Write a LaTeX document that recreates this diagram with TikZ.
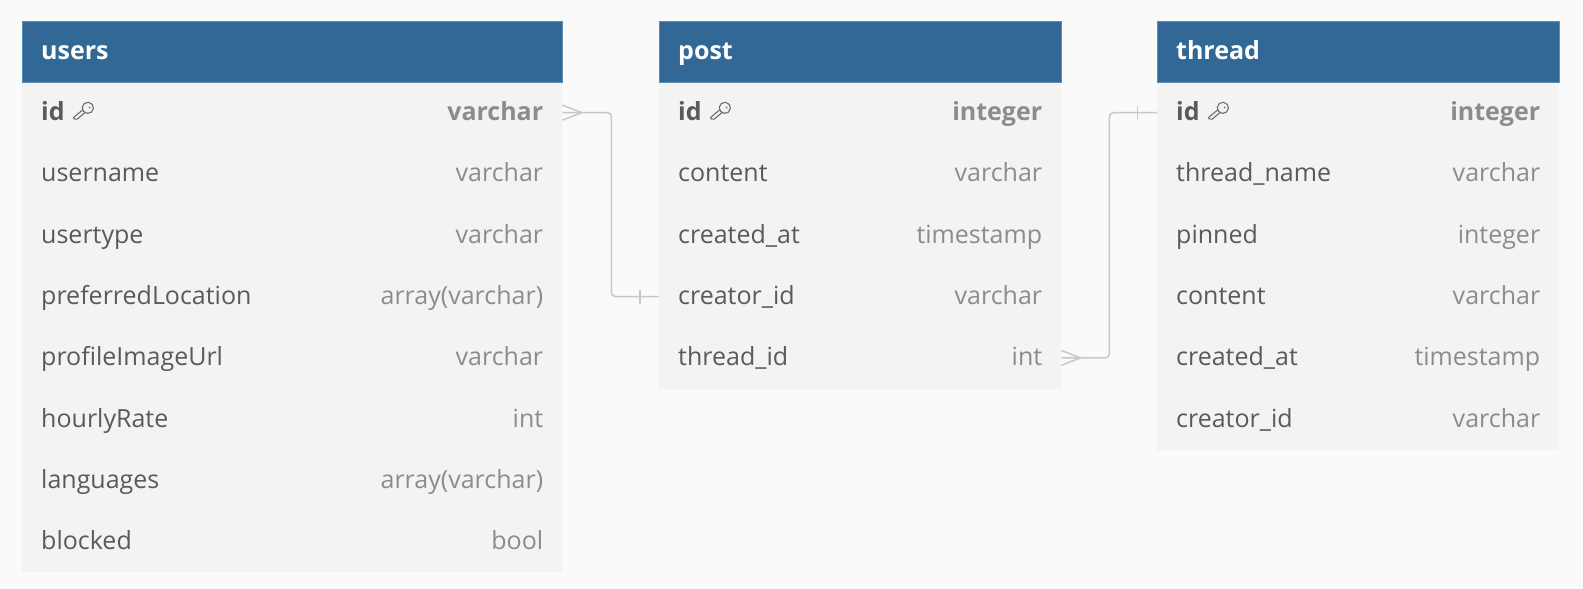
\documentclass[tikz,border=0pt]{standalone}
\usepackage{fontspec}
\setmainfont{Open Sans}
\definecolor{bgc}{HTML}{FAFAFA}
\definecolor{hdrc}{HTML}{316895}
\definecolor{hdrline}{HTML}{5A8DB8}
\definecolor{bodyc}{HTML}{F3F3F2}
\definecolor{namec}{HTML}{5A5A5A}
\definecolor{typec}{HTML}{8C8C8C}
\definecolor{connc}{HTML}{C8C8C8}
\definecolor{keyc}{HTML}{6E6E6E}
\tikzset{
  hdrbox/.style={fill=hdrc, draw=hdrline, line width=0.7pt, minimum height=60.8pt, inner sep=0pt, anchor=north west},
  bodybox/.style={fill=bodyc, inner sep=0pt, anchor=north west},
  rowbox/.style={inner sep=0pt, minimum height=61.3pt, anchor=north west},
  hdrtext/.style={text=white, font=\bfseries\fontsize{25}{29}\selectfont, anchor=base west, inner sep=0pt},
  fname/.style={text=namec, font=\fontsize{25}{29}\selectfont, anchor=base west, inner sep=0pt},
  ftype/.style={text=typec, font=\fontsize{25}{29}\selectfont, anchor=base east, inner sep=0pt},
  fnamebold/.style={fname, font=\bfseries\fontsize{25}{29}\selectfont},
  ftypebold/.style={ftype, font=\bfseries\fontsize{25}{29}\selectfont},
  connline/.style={draw=connc, line width=1.5pt, rounded corners=4pt},
  crow/.style={draw=connc, line width=1.5pt},
  keyicon/.style={draw=keyc, line width=1.1pt, line join=round},
}
% #1 name, #2 left, #3 right, #4 title, #5 id type, #6 number of rows, #7 other rows
\newcommand{\ertable}[7]{%
  \pgfmathsetmacro\tabw{#3-#2}%
  \pgfmathsetmacro\tabh{#6*61.3}%
  \node[bodybox, minimum width=\tabw pt, minimum height=\tabh pt] (#1-body) at (#2,81.8) {};
  \node[hdrbox, minimum width=\tabw pt] (#1-head) at (#2,21) {};
  \node[hdrtext] (#1-title) at ([xshift=19pt,yshift=-8pt]#1-head.west) {#4};
  \node[rowbox, minimum width=\tabw pt] (#1-r1) at (#2,81.8) {};
  \node[fnamebold] (#1-idname) at ([xshift=19pt,yshift=-8pt]#1-r1.west) {id};
  \node[ftypebold] (#1-idtype) at ([xshift=-19pt,yshift=-8pt]#1-r1.east) {#5};
  \begin{scope}[shift={(#1-idname.base east)}, x=1pt, y=1pt]
    \begin{scope}[shift={(23,12.8)}, rotate=220]
      \draw[keyicon] (0,0) circle (5.6);
      \fill[keyc] (-1.6,0.9) circle (1.1);
      \draw[keyicon] (5.3,1.8) -- (15.5,1.8) -- (17.4,0) -- (17.4,-1.8) -- (5.3,-1.8);
    \end{scope}
  \end{scope}
  \foreach \fn/\ft [count=\i from 2] in {#7} {
    \node[rowbox, minimum width=\tabw pt] (#1-r\i) at (#2,{81.8+61.3*(\i-1)}) {};
    \node[fname] (#1-n\i) at ([xshift=19pt,yshift=-8pt]#1-r\i.west) {\fn};
    \node[ftype] (#1-t\i) at ([xshift=-19pt,yshift=-8pt]#1-r\i.east) {\ft};
  }
}
\begin{document}
\begin{tikzpicture}[x=1pt, y=-1pt]
  \useasboundingbox[fill=bgc] (0,0) rectangle (1583,589);

  \ertable{users}{22}{562}{users}{varchar}{8}{username/varchar, usertype/varchar, preferredLocation/array(varchar), profileImageUrl/varchar, hourlyRate/int, languages/array(varchar), blocked/bool}
  \ertable{post}{659}{1061}{post}{integer}{5}{content/varchar, created\_at/timestamp, creator\_id/varchar, thread\_id/int}
  \ertable{thread}{1157}{1559}{thread}{integer}{6}{thread\_name/varchar, pinned/integer, content/varchar, created\_at/timestamp, creator\_id/varchar}

  % users.id  >--|  post.creator_id
  \draw[connline] (users-r1.east) -- ++(49,0) |- (post-r4.west);
  \draw[crow] ([yshift=7.5pt]users-r1.east) -- ([xshift=19.5pt]users-r1.east) -- ([yshift=-7.5pt]users-r1.east);
  \draw[crow] ([xshift=-19pt,yshift=7pt]post-r4.west) -- ([xshift=-19pt,yshift=-7pt]post-r4.west);

  % post.thread_id  >--|  thread.id
  \draw[connline] (post-r5.east) -- ++(48,0) |- (thread-r1.west);
  \draw[crow] ([yshift=7.5pt]post-r5.east) -- ([xshift=19pt]post-r5.east) -- ([yshift=-7.5pt]post-r5.east);
  \draw[crow] ([xshift=-19.5pt,yshift=7pt]thread-r1.west) -- ([xshift=-19.5pt,yshift=-7pt]thread-r1.west);
\end{tikzpicture}
\end{document}
